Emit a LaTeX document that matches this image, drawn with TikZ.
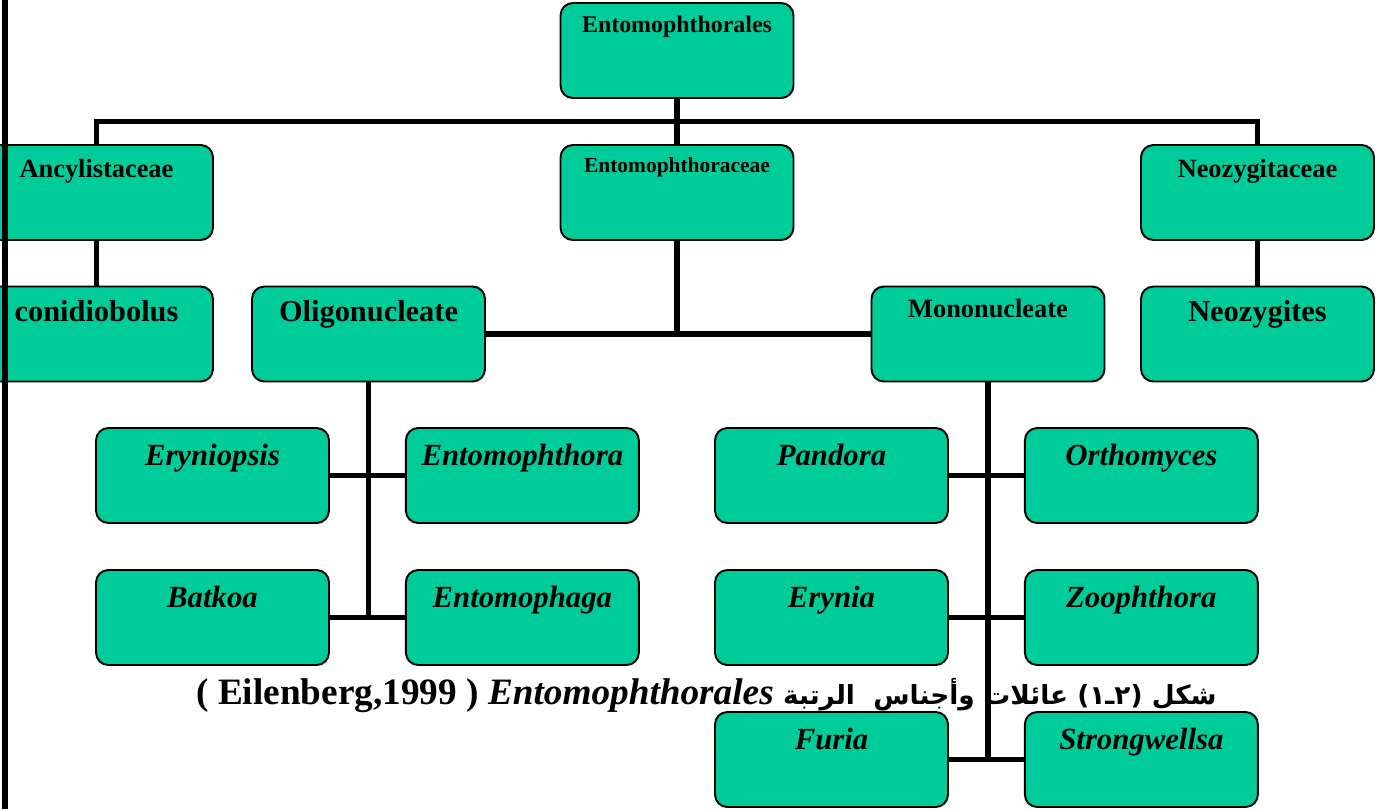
\documentclass[tikz,border=0pt]{standalone}
\usepackage{fontspec}
\setmainfont{Liberation Serif}
\newfontfamily\arabicfont[Script=Arabic]{DejaVu Sans}
\TeXXeTstate=1
\usetikzlibrary{positioning, calc}
\definecolor{boxgreen}{RGB}{0,204,153}
\tikzset{
  taxbox/.style={rectangle, draw=black, fill=boxgreen, rounded corners=7pt,
    line width=1.1pt, minimum width=4.66cm, inner sep=0pt,
    text height=#1, text depth={1.9cm-#1}},
  genbox/.style={taxbox=0.74cm, font=\fontsize{17.5}{20}\selectfont\bfseries\itshape},
  link/.style={line width=3.4pt, color=black}
}

\begin{document}
\begin{tikzpicture}[x=0.02cm, y=-0.02cm]
  \useasboundingbox (0,0) rectangle (1384,809);
  % order and families
  \node[taxbox=0.58cm, font=\fontsize{13.6}{16}\selectfont\bfseries] (ordo) at (677,50.5) {Entomophthorales};
  \node[taxbox=0.64cm, font=\fontsize{15}{18}\selectfont\bfseries] (ancyl) at (96.5,192.5) {Ancylistaceae};
  \node[taxbox=0.54cm, font=\fontsize{12.2}{14}\selectfont\bfseries] (entfam) at (677,192.5) {Entomophthoraceae};
  \node[taxbox=0.64cm, font=\fontsize{15}{18}\selectfont\bfseries] (neofam) at (1257.5,192.5) {Neozygitaceae};
  % second level
  \node[taxbox=0.70cm, font=\fontsize{17.3}{20}\selectfont\bfseries] (conid) at (96.5,334) {conidiobolus};
  \node[taxbox=0.70cm, font=\fontsize{17.3}{20}\selectfont\bfseries] (oligo) at (368.5,334) {Oligonucleate};
  \node[taxbox=0.62cm, font=\fontsize{15}{18}\selectfont\bfseries] (mono) at (988,334) {Mononucleate};
  \node[taxbox=0.70cm, font=\fontsize{17.3}{20}\selectfont\bfseries] (neozyg) at (1257.5,334) {Neozygites};
  % genera, oligonucleate
  \node[genbox] (eryniop) at (212.5,475.5) {Eryniopsis};
  \node[genbox, right=1.5cm of eryniop] (entphth) {Entomophthora};
  \node[genbox] (batkoa) at (212.5,617.5) {Batkoa};
  \node[genbox, right=1.5cm of batkoa] (entphag) {Entomophaga};
  % genera, mononucleate
  \node[genbox] (pandora) at (831.5,475.5) {Pandora};
  \node[genbox, right=1.5cm of pandora] (orthom) {Orthomyces};
  \node[genbox] (erynia) at (831.5,617.5) {Erynia};
  \node[genbox, right=1.5cm of erynia] (zooph) {Zoophthora};
  \node[genbox] (furia) at (831.5,759.5) {Furia};
  \node[genbox, right=1.5cm of furia] (strongw) {Strongwellsa};

  \draw[link] (ordo.south) -- (entfam.north);
  \draw[link] (ancyl.north) |- ($(ordo.south)!0.5!(entfam.north)$) -| (neofam.north);
  \draw[link] (ancyl) -- (conid);
  \draw[link] (neofam) -- (neozyg);
  \draw[link] (oligo) -- (mono);
  \draw[link] (entfam.south) -- (entfam.south |- oligo.east);
  \draw[link] (eryniop) -- (entphth);
  \draw[link] (batkoa) -- (entphag);
  \draw[link] (oligo.south) -- (oligo.south |- batkoa.east);
  \draw[link] (pandora) -- (orthom);
  \draw[link] (erynia) -- (zooph);
  \draw[link] (furia) -- (strongw);
  \draw[link] (mono.south) -- (mono.south |- furia.east);

  % caption
  \node[anchor=base west, inner sep=0pt] (caption) at (196,704)
    {\fontsize{21.2}{24}\selectfont\bfseries ( Eilenberg,1999 ) \textit{Entomophthorales}
     {\arabicfont\fontsize{15}{18}\selectfont\beginR شكل (٢ـ١) عائلات وأجناس~ الرتبة\endR}};

  % page rule
  \draw[line width=3.4pt] (5,0) -- (5,809);
\end{tikzpicture}
\end{document}
